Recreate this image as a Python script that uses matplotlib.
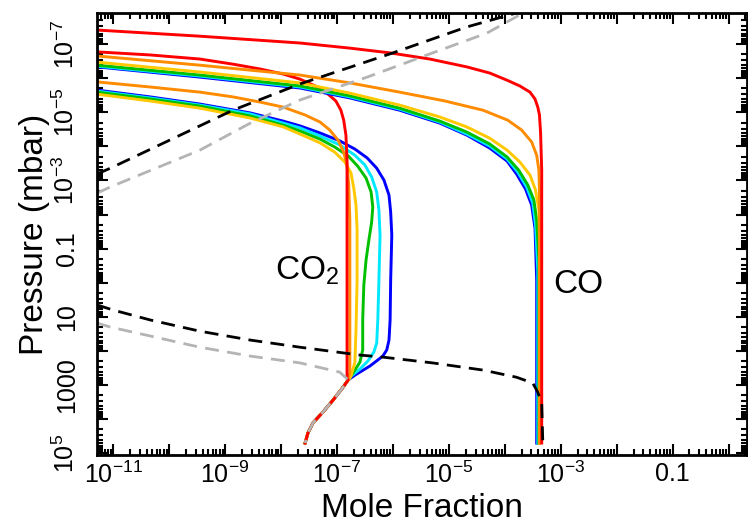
import numpy as np
import matplotlib
matplotlib.use('Agg')
import matplotlib.pyplot as plt

plt.rcParams['font.family'] = ['Liberation Sans', 'DejaVu Sans']
plt.rcParams['mathtext.fontset'] = 'custom'
plt.rcParams['mathtext.rm'] = 'Liberation Sans'
plt.rcParams['mathtext.it'] = 'Liberation Sans:italic'
plt.rcParams['mathtext.bf'] = 'Liberation Sans:bold'

# values, stored as log10(mole fraction), log10(pressure / mbar)
# CO2 profiles (upper parts, one per colour)
co2_red_x = [-11.29, -10.34, -9.45, -8.86, -8.38, -7.96, -7.66, -7.39, -7.18, -7.02, -6.93, -6.88, -6.84,
             -6.82, -6.82, -6.82]
co2_red_p = [-6.77, -6.68, -6.56, -6.41, -6.27, -6.12, -5.97, -5.77, -5.56, -5.33, -5.06, -4.77, -4.33,
             -3.60, -0.96, 2.79]
co2_orange_x = [-11.29, -10.34, -9.45, -8.86, -8.38, -7.96, -7.57, -7.30, -7.13, -6.98, -6.88, -6.82, -6.79,
                -6.77, -6.77, -6.77, -6.80]
co2_orange_p = [-5.89, -5.74, -5.59, -5.45, -5.30, -5.15, -4.92, -4.71, -4.48, -4.18, -3.83, -3.45, -2.87,
                -1.84, 0.51, 2.62, 2.85]
co2_gold_x = [-11.29, -10.34, -9.45, -8.55, -7.96, -7.66, -7.30, -7.04, -6.86, -6.75, -6.70, -6.66, -6.64,
              -6.64, -6.66, -6.68, -6.75, -6.79]
co2_gold_p = [-5.53, -5.33, -5.12, -4.83, -4.57, -4.36, -4.10, -3.83, -3.54, -3.22, -2.78, -2.28, -1.55,
              -0.08, 1.39, 2.33, 2.74, 2.85]
co2_green_x = [-11.29, -10.34, -9.45, -8.55, -7.96, -7.66, -7.30, -7.04, -6.80, -6.63, -6.48, -6.39, -6.36,
               -6.38, -6.43, -6.48, -6.52, -6.54, -6.54, -6.59, -6.68, -6.77]
co2_green_p = [-5.59, -5.39, -5.18, -4.89, -4.62, -4.45, -4.21, -3.98, -3.72, -3.42, -3.07, -2.66, -2.22,
               -1.78, -1.25, -0.67, 0.07, 1.09, 1.97, 2.33, 2.56, 2.79]
co2_cyan_x = [-11.29, -10.34, -9.45, -8.55, -7.96, -7.66, -7.30, -6.95, -6.68, -6.50, -6.38, -6.29, -6.25,
              -6.23, -6.25, -6.27, -6.29, -6.34, -6.45, -6.59, -6.77]
co2_cyan_p = [-5.62, -5.42, -5.21, -4.95, -4.68, -4.54, -4.30, -4.04, -3.74, -3.45, -3.10, -2.66, -2.13,
              -1.40, -0.08, 1.09, 1.77, 2.03, 2.30, 2.53, 2.77]
co2_blue_x = [-11.29, -10.34, -9.45, -8.55, -7.96, -7.66, -7.30, -6.95, -6.68, -6.46, -6.29, -6.16, -6.07,
              -6.04, -6.02, -6.04, -6.05, -6.07, -6.11, -6.18, -6.41, -6.68, -6.80]
co2_blue_p = [-5.65, -5.45, -5.24, -4.98, -4.74, -4.60, -4.39, -4.16, -3.92, -3.66, -3.36, -3.01, -2.57,
              -2.07, -1.40, -0.08, 1.09, 1.68, 1.97, 2.15, 2.44, 2.71, 2.85]
# deep CO2 branch shared by all profiles
co2_deep_x = [-6.80, -6.89, -7.07, -7.25, -7.43, -7.52, -7.57]
co2_deep_p = [2.85, 3.06, 3.44, 3.79, 4.11, 4.41, 4.70]

# CO profiles
co_red_x = [-11.29, -9.45, -7.66, -6.77, -6.05, -5.34, -4.68, -4.27, -3.96, -3.73, -3.55, -3.46, -3.41,
            -3.38, -3.36, -3.34, -3.34]
co_red_p = [-7.41, -7.23, -7.03, -6.88, -6.74, -6.56, -6.33, -6.15, -5.94, -5.77, -5.59, -5.39, -5.15,
            -4.92, -4.39, -3.30, 4.70]
co_orange_x = [-11.29, -9.45, -7.66, -6.77, -5.88, -5.07, -4.39, -3.95, -3.70, -3.52, -3.43, -3.39, -3.38,
               -3.38]
co_orange_p = [-6.65, -6.38, -6.09, -5.86, -5.59, -5.33, -5.06, -4.77, -4.48, -4.13, -3.74, -3.30, -2.72,
               4.70]
co_gold_x = [-11.29, -9.45, -7.66, -6.77, -5.88, -5.16, -4.68, -4.27, -3.96, -3.73, -3.55, -3.45, -3.39,
             -3.38, -3.38]
co_gold_p = [-6.47, -6.18, -5.86, -5.56, -5.21, -4.86, -4.57, -4.24, -3.89, -3.54, -3.16, -2.72, -2.13,
             -1.25, 4.70]
co_green_x = [-11.29, -9.45, -7.66, -6.77, -5.88, -5.16, -4.68, -4.27, -3.96, -3.75, -3.59, -3.48, -3.43,
              -3.39, -3.39]
co_green_p = [-6.38, -6.09, -5.77, -5.48, -5.12, -4.74, -4.42, -4.07, -3.69, -3.30, -2.87, -2.43, -1.84,
              -0.67, 4.70]
co_cyan_x = [-11.29, -9.45, -7.66, -6.77, -5.88, -5.16, -4.68, -4.27, -3.96, -3.77, -3.61, -3.50, -3.45,
             -3.41, -3.41]
co_cyan_p = [-6.35, -6.06, -5.74, -5.45, -5.09, -4.71, -4.36, -4.01, -3.63, -3.25, -2.81, -2.34, -1.69,
             -0.37, 4.70]
co_blue_x = [-11.29, -9.45, -7.66, -6.77, -5.88, -5.16, -4.68, -4.27, -3.96, -3.79, -3.63, -3.52, -3.46,
             -3.43, -3.43]
co_blue_p = [-6.33, -6.03, -5.71, -5.42, -5.06, -4.68, -4.33, -3.95, -3.57, -3.19, -2.75, -2.28, -1.60,
             -0.08, 4.70]

# dashed profiles
black_up_x = [-11.29, -11.05, -8.86, -7.66, -6.00, -4.68, -3.73]
black_up_p = [-3.19, -3.36, -5.06, -5.83, -6.74, -7.50, -7.94]
gray_up_x = [-11.29, -11.05, -9.45, -8.55, -7.66, -6.46, -5.29, -4.32, -3.64]
gray_up_p = [-2.63, -2.81, -3.89, -4.68, -5.36, -6.03, -6.74, -7.32, -7.94]
black_low_x = [-11.29, -11.0, -10.34, -9.45, -8.55, -7.66, -6.59, -6.18, -5.29, -4.39, -3.79, -3.50,
               -3.41, -3.34, -3.32]
black_low_p = [0.65, 0.80, 1.09, 1.42, 1.68, 1.89, 2.12, 2.18, 2.35, 2.56, 2.77, 2.94,
               3.21, 3.53, 4.70]
gray_low_x = [-11.29, -11.05, -10.34, -9.45, -8.55, -7.66, -6.95, -6.80, -6.89, -7.07, -7.25, -7.43,
              -7.52, -7.57]
gray_low_p = [1.18, 1.30, 1.56, 1.89, 2.15, 2.35, 2.62, 2.85, 3.06, 3.44, 3.79, 4.11,
              4.41, 4.70]

colors = {'blue': '#0000FF', 'cyan': '#00E8FF', 'green': '#00C000',
          'gold': '#FFC800', 'orange': '#FF8C00', 'red': '#FF0000'}

co2 = [('blue', co2_blue_x, co2_blue_p), ('cyan', co2_cyan_x, co2_cyan_p),
       ('green', co2_green_x, co2_green_p), ('gold', co2_gold_x, co2_gold_p),
       ('orange', co2_orange_x, co2_orange_p), ('red', co2_red_x, co2_red_p)]
co = [('blue', co_blue_x, co_blue_p), ('cyan', co_cyan_x, co_cyan_p),
      ('green', co_green_x, co_green_p), ('gold', co_gold_x, co_gold_p),
      ('orange', co_orange_x, co_orange_p), ('red', co_red_x, co_red_p)]

fig = plt.figure(figsize=(7.48, 5.23), dpi=100)
ax = fig.add_axes([97 / 748, 1 - 455 / 523, 650 / 748, 442 / 523])

lw = 2.1
for name, lx, lp in co2:
    x = 10.0 ** np.array(lx + co2_deep_x)
    p = 10.0 ** np.array(lp + co2_deep_p)
    ax.plot(x, p, color=colors[name], lw=lw, solid_joinstyle='round')
for name, lx, lp in co:
    ax.plot(10.0 ** np.array(lx), 10.0 ** np.array(lp), color=colors[name], lw=lw,
            solid_joinstyle='round')

dash = (5, 3)
ax.plot(10.0 ** np.array(gray_up_x), 10.0 ** np.array(gray_up_p), color='#B4B4B4', lw=2, dashes=dash)
ax.plot(10.0 ** np.array(gray_low_x), 10.0 ** np.array(gray_low_p), color='#B4B4B4', lw=2, dashes=dash)
ax.plot(10.0 ** np.array(black_up_x), 10.0 ** np.array(black_up_p), color='black', lw=2, dashes=dash)
ax.plot(10.0 ** np.array(black_low_x), 10.0 ** np.array(black_low_p), color='black', lw=2, dashes=dash)

ax.set_xscale('log')
ax.set_yscale('log')

xt = 10.0 ** np.arange(-11, 1)
xl = [r'$10^{-11}$', '', r'$10^{-9}$', '', r'$10^{-7}$', '', r'$10^{-5}$', '',
      r'$10^{-3}$', '', '0.1', '']
ax.set_xticks(xt)
ax.set_xticklabels(xl)
yt = 10.0 ** np.arange(-7, 6)
yl = [r'$10^{-7}$', '', r'$10^{-5}$', '', r'$10^{-3}$', '', '0.1', '', '10', '', '1000', '',
      r'$10^{5}$']
ax.set_yticks(yt)
ax.set_yticklabels(yl)
ax.xaxis.set_minor_locator(matplotlib.ticker.LogLocator(base=10, subs=np.arange(2, 10), numticks=100))
ax.yaxis.set_minor_locator(matplotlib.ticker.LogLocator(base=10, subs=np.arange(2, 10), numticks=100))
ax.xaxis.set_minor_formatter(matplotlib.ticker.NullFormatter())
ax.yaxis.set_minor_formatter(matplotlib.ticker.NullFormatter())
ax.set_xlim(10 ** -11.29, 10 ** 0.33)
ax.set_ylim(10 ** 5.05, 10 ** -7.91)

ax.tick_params(which='both', direction='in', top=True, right=True, width=1.5)
ax.tick_params(which='major', length=8, labelsize=18)
ax.tick_params(which='minor', length=4)
ax.tick_params(axis='x', pad=5)
ax.tick_params(axis='y', pad=13, labelrotation=90)
for lab in ax.get_yticklabels():
    lab.set_va('center')
for s in ax.spines.values():
    s.set_linewidth(2)

ax.set_xlabel('Mole Fraction', fontsize=24)
ax.set_ylabel('Pressure (mbar)', fontsize=24)
ax.xaxis.set_label_coords(0.5, -0.085)
ax.yaxis.set_label_coords(-0.072, 0.5)

ax.text(10 ** -8.11, 10 ** -0.08, 'CO$_2$', fontsize=24, ha='left', va='baseline')
ax.text(10 ** -3.14, 10 ** 0.30, 'CO', fontsize=24, ha='left', va='baseline')

fig.savefig('out.png', dpi=100)
